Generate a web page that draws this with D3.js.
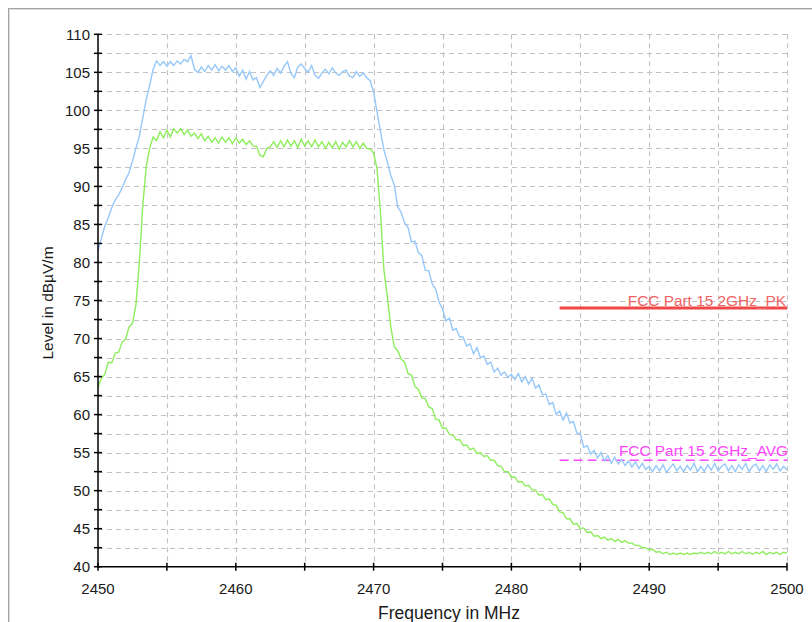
<!DOCTYPE html>
<html>
<head>
<meta charset="utf-8">
<script src="https://cdn.jsdelivr.net/npm/d3@7/dist/d3.min.js"></script>
<style>
html,body{margin:0;padding:0;background:#fff;}
svg{display:block;font-family:Arial,"Liberation Sans",sans-serif;}
</style>
</head>
<body>
<svg id="chart" width="812" height="622"></svg>
<script>
// ---------- data ----------
const freqMHz = [
2450,2450.25,2450.5,2450.75,2451,2451.25,2451.5,2451.75,2452,2452.25,2452.5,2452.75,2453,2453.25,2453.5,2453.75,2454,2454.25,2454.5,2454.75,
2455,2455.25,2455.5,2455.75,2456,2456.25,2456.5,2456.75,2457,2457.25,2457.5,2457.75,2458,2458.25,2458.5,2458.75,2459,2459.25,2459.5,2459.75,
2460,2460.25,2460.5,2460.75,2461,2461.25,2461.5,2461.75,2462,2462.25,2462.5,2462.75,2463,2463.25,2463.5,2463.75,2464,2464.25,2464.5,2464.75,
2465,2465.25,2465.5,2465.75,2466,2466.25,2466.5,2466.75,2467,2467.25,2467.5,2467.75,2468,2468.25,2468.5,2468.75,2469,2469.25,2469.5,2469.75,
2470,2470.25,2470.5,2470.75,2471,2471.25,2471.5,2471.75,2472,2472.25,2472.5,2472.75,2473,2473.25,2473.5,2473.75,2474,2474.25,2474.5,2474.75,
2475,2475.25,2475.5,2475.75,2476,2476.25,2476.5,2476.75,2477,2477.25,2477.5,2477.75,2478,2478.25,2478.5,2478.75,2479,2479.25,2479.5,2479.75,
2480,2480.25,2480.5,2480.75,2481,2481.25,2481.5,2481.75,2482,2482.25,2482.5,2482.75,2483,2483.25,2483.5,2483.75,2484,2484.25,2484.5,2484.75,
2485,2485.25,2485.5,2485.75,2486,2486.25,2486.5,2486.75,2487,2487.25,2487.5,2487.75,2488,2488.25,2488.5,2488.75,2489,2489.25,2489.5,2489.75,
2490,2490.25,2490.5,2490.75,2491,2491.25,2491.5,2491.75,2492,2492.25,2492.5,2492.75,2493,2493.25,2493.5,2493.75,2494,2494.25,2494.5,2494.75,
2495,2495.25,2495.5,2495.75,2496,2496.25,2496.5,2496.75,2497,2497.25,2497.5,2497.75,2498,2498.25,2498.5,2498.75,2499,2499.25,2499.5,2499.75,
2500];

const peakLevel = [
81.5,83.2,84.8,85.9,87.2,88.2,88.9,89.8,90.9,91.8,93.3,95.0,96.6,99.0,101.4,103.3,105.4,106.5,105.9,106.4,
105.8,106.4,105.9,106.5,106.1,106.7,106.4,107.2,105.4,105.0,105.7,105.1,105.9,105.3,106.0,105.2,105.8,105.3,105.9,105.1,
105.6,104.5,105.3,104.1,105.1,104.0,104.3,103.0,103.8,104.6,105.2,104.6,105.5,104.9,105.8,106.4,104.9,104.3,105.7,106.1,
105.5,105.0,105.9,104.6,104.2,104.9,105.4,104.8,105.6,104.9,104.6,105.1,105.3,104.5,104.3,105.1,104.5,104.9,104.3,103.9,
102.4,99.8,97.2,94.8,93.2,91.4,90.2,87.3,86.6,85.2,84.6,82.7,82.8,81.3,80.9,79.0,78.9,77.2,76.5,74.8,
73.9,72.3,72.7,71.1,71.3,70.2,70.2,69.0,69.3,68.0,68.8,67.5,67.7,66.6,66.9,65.6,66.1,65.2,65.6,64.9,
65.3,64.6,65.4,64.3,65.0,64.0,64.8,63.5,63.9,62.6,62.7,61.3,61.6,60.0,60.5,59.3,60.2,58.9,59.1,57.6,
57.5,55.7,55.9,54.8,55.3,54.3,55.0,53.9,54.6,53.6,54.4,53.5,54.1,53.3,53.9,53.1,53.8,52.9,53.6,52.8,
53.2,52.5,53.3,52.6,53.4,52.4,53.0,53.5,52.6,53.2,52.5,53.3,52.7,53.6,52.5,53.2,52.5,53.4,52.7,53.6,
52.6,53.2,53.5,52.6,53.3,52.5,53.4,52.8,53.6,52.5,53.2,53.5,52.6,53.3,52.5,53.4,52.8,53.5,52.6,53.2,
52.7];

const avgLevel = [
63.6,64.8,65.3,66.9,66.8,68.1,68.2,69.5,69.9,71.5,72.0,74.4,80.0,87.5,92.6,95.0,96.5,96.0,97.2,96.4,
97.4,96.5,97.6,97.0,97.6,96.8,97.4,96.6,97.0,96.3,96.9,96.0,96.6,95.8,96.4,95.7,96.5,95.8,96.4,95.6,
96.4,95.7,96.2,95.5,96.0,95.3,95.3,94.1,93.9,95.0,95.2,95.9,95.1,96.0,95.2,96.1,95.3,96.0,95.1,96.2,
95.3,96.0,95.2,96.1,95.2,95.9,95.0,95.8,95.1,95.9,94.9,95.8,95.2,96.0,95.2,95.9,95.0,95.7,95.0,94.9,
94.4,92.3,86.5,79.0,75.4,71.5,68.9,68.4,67.3,66.9,65.4,65.2,63.7,63.3,62.2,62.1,61.0,60.8,59.4,59.3,
58.2,58.2,57.4,57.3,56.7,56.7,55.9,56.0,55.4,55.6,54.9,55.0,54.5,54.6,54.0,54.0,53.3,53.2,52.5,52.5,
51.8,51.8,51.1,51.2,50.6,50.7,50.1,50.1,49.4,49.5,48.8,48.9,48.2,48.1,47.2,47.1,46.3,46.3,45.6,45.7,
45.0,45.1,44.5,44.6,44.0,44.1,43.7,43.9,43.5,43.7,43.3,43.6,43.2,43.4,43.1,43.1,42.8,42.8,42.5,42.5,
42.2,42.3,41.9,42.0,41.7,41.9,41.6,41.8,41.6,41.8,41.6,41.8,41.6,41.8,41.7,41.9,41.7,41.9,41.7,42.0,
41.7,41.9,41.7,42.0,41.7,41.9,41.7,42.0,41.7,41.9,41.6,41.9,41.7,42.0,41.6,41.9,41.7,41.9,41.6,41.9,
41.8];

const limitNames  = ["FCC Part 15 2GHz_PK", "FCC Part 15 2GHz_AVG"];
const limitLevels = [74, 54];
const limitStart  = [2483.5, 2483.5];
const limitEnd    = [2500, 2500];

const xTickLabels = [2450, 2460, 2470, 2480, 2490, 2500];
const xGridTicks  = [2450,2455,2460,2465,2470,2475,2480,2485,2490,2495,2500];
const yTickLabels = [40,45,50,55,60,65,70,75,80,85,90,95,100,105,110];
const yMinorTicks = [42.5,47.5,52.5,57.5,62.5,67.5,72.5,77.5,82.5,87.5,92.5,97.5,102.5,107.5];

const xTitle = "Frequency in MHz";
const yTitle = "Level in dBµV/m";

// ---------- drawing ----------
const svg = d3.select("#chart");
const x = d3.scaleLinear().domain([2450, 2500]).range([98, 787]);
const y = d3.scaleLinear().domain([40, 110]).range([566.7, 34.3]);

// outer frame
svg.append("line").attr("x1",8).attr("x2",812).attr("y1",8.5).attr("y2",8.5).attr("stroke","#a4a4a4").attr("stroke-width",1);
svg.append("line").attr("x1",8).attr("x2",812).attr("y1",9.5).attr("y2",9.5).attr("stroke","#dcdcdc").attr("stroke-width",1);
svg.append("line").attr("x1",8.5).attr("x2",8.5).attr("y1",8).attr("y2",622).attr("stroke","#a4a4a4").attr("stroke-width",1);
svg.append("line").attr("x1",9.5).attr("x2",9.5).attr("y1",9).attr("y2",622).attr("stroke","#dcdcdc").attr("stroke-width",1);

// grid
const grid = svg.append("g").attr("stroke","#c2c2c2").attr("stroke-width",1.1).attr("stroke-dasharray","5,4").attr("fill","none");
grid.selectAll("line.h").data(yTickLabels.concat(yMinorTicks).filter(v => v > 40)).enter().append("line")
  .attr("x1", x(2450)).attr("x2", x(2500)).attr("y1", d => Math.round(y(d))+0.5).attr("y2", d => Math.round(y(d))+0.5);
grid.selectAll("line.v").data(xGridTicks.filter(v => v > 2450)).enter().append("line")
  .attr("x1", d => Math.round(x(d))+0.5).attr("x2", d => Math.round(x(d))+0.5).attr("y1", y(110)).attr("y2", y(40));

// limit lines
const limits = limitNames.map((n,i) => ({name:n, level:limitLevels[i], f0:limitStart[i], f1:limitEnd[i]}));
svg.append("line").attr("x1", x(limits[0].f0)).attr("x2", x(limits[0].f1))
  .attr("y1", y(limits[0].level)).attr("y2", y(limits[0].level))
  .attr("stroke","#f04646").attr("stroke-width",3);
svg.append("line").attr("x1", x(limits[1].f0)).attr("x2", x(limits[1].f1))
  .attr("y1", y(limits[1].level)).attr("y2", y(limits[1].level))
  .attr("stroke","#ff44ff").attr("stroke-width",1.5).attr("stroke-dasharray","9,5");

// traces
const lineGen = d3.line().x((d,i) => x(freqMHz[i])).y(d => y(d));
svg.append("path").datum(peakLevel).attr("d", lineGen).attr("fill","none").attr("stroke","#96c8fa").attr("stroke-width",1.4);
svg.append("path").datum(avgLevel).attr("d", lineGen).attr("fill","none").attr("stroke","#8eee5c").attr("stroke-width",1.4);

// limit labels
svg.append("text").attr("x", x(2500)-1).attr("y", y(limits[0].level)-2).attr("text-anchor","end")
  .attr("font-size","15.4px").attr("fill","#f06464").text(limits[0].name);
svg.append("text").attr("x", x(2500)+1).attr("y", y(limits[1].level)-4).attr("text-anchor","end")
  .attr("font-size","15.4px").attr("fill","#ff44ff").text(limits[1].name);

// axes
const ax = svg.append("g").attr("stroke","#000").attr("stroke-width",1.5);
ax.append("line").attr("x1", x(2450)).attr("x2", x(2450)).attr("y1", y(110)).attr("y2", y(40)+0.8);
ax.append("line").attr("x1", x(2450)-0.8).attr("x2", x(2500)).attr("y1", y(40)).attr("y2", y(40));
ax.selectAll("line.yt").data(yTickLabels.concat(yMinorTicks)).enter().append("line")
  .attr("x1", x(2450)-4).attr("x2", x(2450)+4).attr("y1", d => y(d)).attr("y2", d => y(d));
ax.selectAll("line.xt").data(xGridTicks).enter().append("line")
  .attr("x1", d => x(d)).attr("x2", d => x(d)).attr("y1", y(40)-4).attr("y2", y(40)+4);

svg.append("g").selectAll("text").data(yTickLabels).enter().append("text")
  .attr("x", 90).attr("y", d => y(d)).attr("dy","0.36em").attr("text-anchor","end")
  .attr("font-size","15px").attr("fill","#1a1a1a").text(d => d);
svg.append("g").selectAll("text").data(xTickLabels).enter().append("text")
  .attr("x", d => x(d)).attr("y", 594).attr("text-anchor","middle")
  .attr("font-size","15px").attr("fill","#1a1a1a").text(d => d);

svg.append("text").attr("x", 449).attr("y", 619).attr("text-anchor","middle")
  .attr("font-size","17.5px").attr("fill","#1a1a1a").text(xTitle);
svg.append("text").attr("transform","translate(53,303) rotate(-90)").attr("text-anchor","middle")
  .attr("font-size","15.5px").attr("fill","#1a1a1a").text(yTitle);
</script>
</body>
</html>
